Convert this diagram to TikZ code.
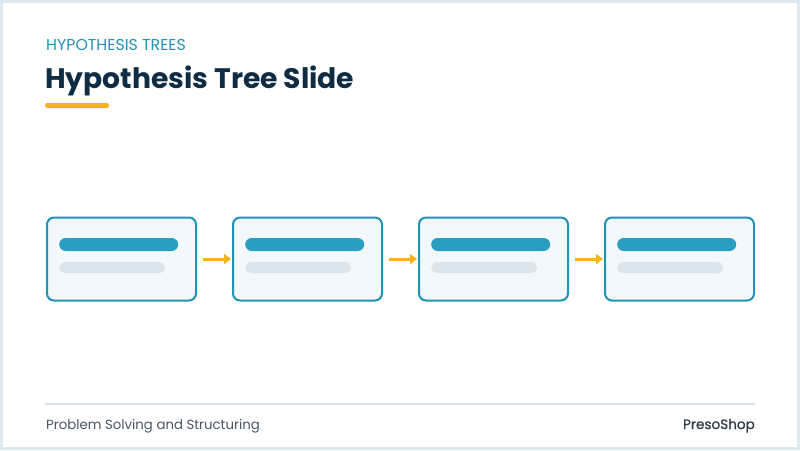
\documentclass[tikz,border=0pt]{standalone}
\usepackage{fontspec}
\setmainfont{Poppins}
\newfontfamily\brandfont[FakeBold=0.6]{Poppins}
\usetikzlibrary{arrows.meta}
\definecolor{frame}{HTML}{DCE9EE}
\definecolor{teal}{HTML}{2193B5}
\definecolor{darkbar}{HTML}{2A9EC0}
\definecolor{boxfill}{HTML}{F2F8FB}
\definecolor{lightbar}{HTML}{DCE5EC}
\definecolor{amber}{HTML}{F5B21A}
\definecolor{navy}{HTML}{0E2C44}
\definecolor{kicker}{HTML}{2393B3}
\definecolor{foot}{HTML}{4B5563}
\definecolor{brand}{HTML}{2F3A44}
\definecolor{footline}{HTML}{DBE3E8}
\tikzset{
  stagebox/.style={draw=teal, line width=2pt, fill=boxfill, rounded corners=7pt,
    minimum width=149pt, minimum height=83pt, inner sep=0pt},
  barA/.style={fill=darkbar, rounded corners=6.5pt, minimum width=119pt, minimum height=13pt, inner sep=0pt, anchor=west},
  barB/.style={fill=lightbar, rounded corners=5.5pt, minimum width=106pt, minimum height=11pt, inner sep=0pt, anchor=west},
  flow/.style={draw=amber, line width=3pt, -{Triangle[length=7pt,width=10pt]}, shorten <=6pt, shorten >=1pt},
}
\begin{document}
\begin{tikzpicture}[x=1pt,y=-1pt]
\useasboundingbox (0,0) rectangle (800,450);
\fill[frame] (0,0) rectangle (800,450);
\fill[white] (3,3) rectangle (797,447);
\node[anchor=base west, inner sep=0pt, text=kicker, font=\fontsize{15.8}{18}\selectfont] (kick) at (46,50.5) {HYPOTHESIS TREES};
\node[anchor=base west, inner sep=0pt, text=navy, font=\fontsize{28.2}{32}\selectfont\bfseries] (title) at (45,88.5) {Hypothesis Tree Slide};
\fill[amber, rounded corners=2.5pt] (45,103) rectangle (109,108);
\foreach \i/\cx in {1/121.5, 2/307.5, 3/493.5, 4/679.5}{
  \node[stagebox] (b\i) at (\cx,259) {};
  \node[barA] (d\i) at (\cx-62.5,244.5) {};
  \node[barB] (l\i) at (\cx-62.5,267.5) {};
}
\draw[flow] (b1.east) -- (b2.west);
\draw[flow] (b2.east) -- (b3.west);
\draw[flow] (b3.east) -- (b4.west);
\draw[footline, line width=1.5pt] (45,404) -- (755,404);
\node[anchor=base west, inner sep=0pt, text=foot, font=\fontsize{13.3}{16}\selectfont] (fl) at (46,429) {Problem Solving and Structuring};
\node[anchor=base east, inner sep=0pt, text=brand, font=\brandfont\fontsize{13.6}{16}\selectfont] (fr) at (755,429) {PresoShop};
\end{tikzpicture}
\end{document}
